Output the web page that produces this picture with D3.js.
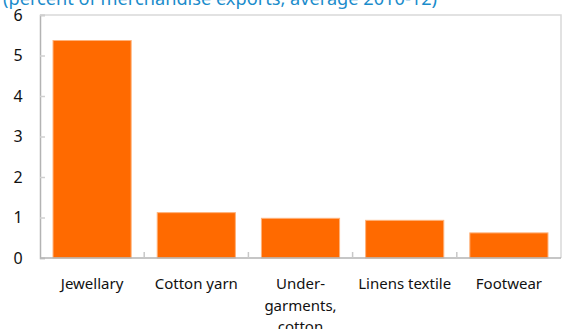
<!DOCTYPE html>
<html>
<head>
<meta charset="utf-8">
<script src="https://cdn.jsdelivr.net/npm/d3@7"></script>
<style>
  html, body { margin: 0; padding: 0; background: #fff; }
  svg { display: block; }
  text { font-family: "Noto Sans", "Open Sans", sans-serif; }
</style>
</head>
<body>
<svg id="chart" width="565" height="329"></svg>
<script>
// Top export products, share of merchandise exports
const categories = ["Jewellary", "Cotton yarn", "Under-garments, cotton", "Linens textile", "Footwear"];
const categoryLines = [["Jewellary"], ["Cotton yarn"], ["Under-", "garments,", "cotton"], ["Linens textile"], ["Footwear"]];
const values = [5.37, 1.12, 0.98, 0.93, 0.62];
const yTicks = [0, 1, 2, 3, 4, 5, 6];
const subtitle = "(percent of merchandise exports, average 2010-12)";

const svg = d3.select("#chart");
const margin = { left: 40, right: 4, top: 15, bottom: 71 };
const W = 565, H = 329;

const x = d3.scaleBand()
  .domain(categories)
  .range([margin.left, W - margin.right])
  .paddingInner(0.25)
  .paddingOuter(0.125);

const y = d3.scaleLinear()
  .domain([0, 6])
  .range([H - margin.bottom, margin.top]);

// subtitle, partly above the page edge
svg.append("text")
  .attr("x", 3)
  .attr("y", 5)
  .attr("fill", "#1b8ccb")
  .attr("font-size", 18.2)
  .text(subtitle);

// frame: light top and right edges
svg.append("path")
  .attr("d", `M${x.range()[0]},${y(6)}H${x.range()[1]}V${y(0)}`)
  .attr("fill", "none")
  .attr("stroke", "#d9d9d9")
  .attr("stroke-width", 1.5);

// bars
svg.append("g")
  .selectAll("rect")
  .data(values)
  .join("rect")
  .attr("x", (d, i) => x(categories[i]))
  .attr("y", d => y(d))
  .attr("width", x.bandwidth())
  .attr("height", d => y(0) - y(d))
  .attr("fill", "#ff6a00")
  .attr("stroke", "#ffb27a")
  .attr("stroke-width", 1);

// y axis
const yAxis = svg.append("g")
  .attr("transform", `translate(${x.range()[0]},0)`)
  .call(d3.axisRight(y).tickValues(yTicks).tickSize(5).tickFormat(""));
yAxis.select(".domain").attr("stroke", "#b3b3b3").attr("stroke-width", 1.5);
yAxis.selectAll(".tick line").attr("stroke", "#d0d0d0").attr("stroke-width", 1.5);

svg.append("g")
  .selectAll("text")
  .data(yTicks)
  .join("text")
  .attr("x", 18)
  .attr("y", d => y(d))
  .attr("dy", "0.36em")
  .attr("text-anchor", "middle")
  .attr("fill", "#111")
  .attr("font-size", 16)
  .text(d => d);

// x axis with separators between categories
const bottom = y(0);
svg.append("line")
  .attr("x1", x.range()[0]).attr("x2", x.range()[1])
  .attr("y1", bottom).attr("y2", bottom)
  .attr("stroke", "#b3b3b3").attr("stroke-width", 1.5);

const step = x.step();
const sepData = categories.slice(1).map(c => x(c) - step * x.paddingInner() / 2);
svg.append("g")
  .selectAll("line")
  .data(sepData)
  .join("line")
  .attr("x1", d => d).attr("x2", d => d)
  .attr("y1", bottom).attr("y2", bottom - 6)
  .attr("stroke", "#c8c8c8").attr("stroke-width", 1.5);

// category labels
const lab = svg.append("g")
  .selectAll("text")
  .data(categories)
  .join("text")
  .attr("x", d => x(d) + x.bandwidth() / 2)
  .attr("y", 289)
  .attr("text-anchor", "middle")
  .attr("fill", "#111")
  .attr("font-size", 15);
lab.each(function(d, i) {
  d3.select(this).selectAll("tspan")
    .data(categoryLines[i])
    .join("tspan")
    .attr("x", x(d) + x.bandwidth() / 2)
    .attr("dy", (t, j) => j === 0 ? 0 : 21.5)
    .text(t => t);
});
</script>
</body>
</html>
